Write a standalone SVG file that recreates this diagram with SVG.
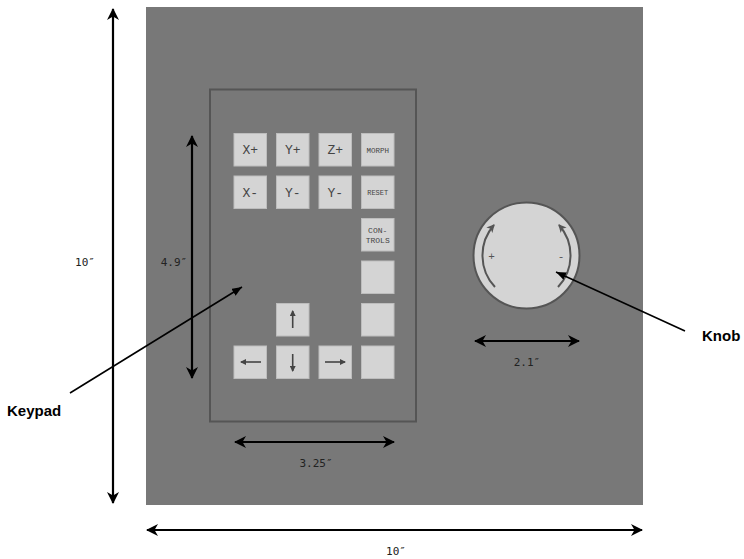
<svg xmlns="http://www.w3.org/2000/svg" width="744" height="559" viewBox="0 0 744 559">
<defs>
<style>
.key{fill:#d4d4d4;stroke:#bdbdbd;stroke-width:1}
.kt{font-family:"Liberation Mono",monospace;fill:#444;text-anchor:middle}
.ka{stroke:#444;stroke-width:1.6;fill:none}
.dim{stroke:#000;stroke-width:2.2;fill:none;marker-start:url(#dh);marker-end:url(#dh)}
.dl{font-family:"DejaVu Sans Mono","Liberation Mono",monospace;font-size:11px;fill:#222;text-anchor:middle}
.ptr{stroke:#000;stroke-width:1.6;fill:none;marker-end:url(#ph)}
.lbl{font-family:"Liberation Sans",Arial,sans-serif;font-weight:bold;font-size:15px;fill:#000}
</style>
<marker id="dh" viewBox="0 0 12 12" refX="11" refY="6" markerWidth="12" markerHeight="12" markerUnits="userSpaceOnUse" orient="auto-start-reverse"><path d="M0,0 L12,6 L0,12 L3.5,6 z" fill="#000"/></marker>
<marker id="ph" viewBox="0 0 10 8" refX="10" refY="4" markerWidth="10" markerHeight="8" markerUnits="userSpaceOnUse" orient="auto"><path d="M0,0 L10,4 L0,8 z" fill="#000"/></marker>
<marker id="kh" viewBox="0 0 6 6" refX="5" refY="3" markerWidth="6" markerHeight="6" markerUnits="userSpaceOnUse" orient="auto"><path d="M0,0 L6,3 L0,6 z" fill="#444"/></marker>
<marker id="nh" viewBox="0 0 8 8" refX="7" refY="4" markerWidth="8" markerHeight="8" markerUnits="userSpaceOnUse" orient="auto"><path d="M0,0 L8,4 L0,8 L2,4 z" fill="#555"/></marker>
</defs>
<rect width="744" height="559" fill="#fff"/>
<g id="panel"><rect x="146" y="7" width="497" height="498" fill="#787878"/></g>
<g id="keypad">
<rect x="210" y="89.5" width="206" height="332" fill="none" stroke="#555" stroke-width="2"/>
</g>
<g id="keys">
<g id="key-xp"><rect class="key" x="234" y="133.5" width="32.5" height="32.5"/><text class="kt" x="250.2" y="154" font-size="13">X+</text></g>
<g id="key-yp"><rect class="key" x="276.5" y="133.5" width="32.5" height="32.5"/><text class="kt" x="292.7" y="154" font-size="13">Y+</text></g>
<g id="key-zp"><rect class="key" x="319" y="133.5" width="32.5" height="32.5"/><text class="kt" x="335.2" y="154" font-size="13">Z+</text></g>
<g id="key-morph"><rect class="key" x="361.5" y="133.5" width="32.5" height="32.5"/><text class="kt" x="377.7" y="152.5" font-size="7.5">MORPH</text></g>
<g id="key-xm"><rect class="key" x="234" y="176" width="32.5" height="32.5"/><text class="kt" x="250.2" y="196.5" font-size="13">X-</text></g>
<g id="key-ym"><rect class="key" x="276.5" y="176" width="32.5" height="32.5"/><text class="kt" x="292.7" y="196.5" font-size="13">Y-</text></g>
<g id="key-ym2"><rect class="key" x="319" y="176" width="32.5" height="32.5"/><text class="kt" x="335.2" y="196.5" font-size="13">Y-</text></g>
<g id="key-reset"><rect class="key" x="361.5" y="176" width="32.5" height="32.5"/><text class="kt" x="377.7" y="195" font-size="7">RESET</text></g>
<g id="key-controls"><rect class="key" x="361.5" y="218.5" width="32.5" height="32.5"/><text class="kt" x="377.7" y="233" font-size="8">CON-</text><text class="kt" x="377.7" y="243" font-size="8">TROLS</text></g>
<g id="key-b1"><rect class="key" x="361.5" y="261" width="32.5" height="32.5"/></g>
<g id="key-b2"><rect class="key" x="361.5" y="303.5" width="32.5" height="32.5"/></g>
<g id="key-b3"><rect class="key" x="361.5" y="346" width="32.5" height="32.5"/></g>
<g id="key-up"><rect class="key" x="276.5" y="303.5" width="32.5" height="32.5"/><line class="ka" x1="292.7" y1="328" x2="292.7" y2="311" marker-end="url(#kh)"/></g>
<g id="key-down"><rect class="key" x="276.5" y="346" width="32.5" height="32.5"/><line class="ka" x1="292.7" y1="354" x2="292.7" y2="371" marker-end="url(#kh)"/></g>
<g id="key-left"><rect class="key" x="234" y="346" width="32.5" height="32.5"/><line class="ka" x1="261" y1="362" x2="241" y2="362" marker-end="url(#kh)"/></g>
<g id="key-right"><rect class="key" x="319" y="346" width="32.5" height="32.5"/><line class="ka" x1="325" y1="362" x2="345" y2="362" marker-end="url(#kh)"/></g>
</g>
<g id="knob">
<circle cx="526.5" cy="255.5" r="53" fill="#d4d4d4" stroke="#555" stroke-width="2"/>
<path d="M495,287 A46,46 0 0,1 494,225" fill="none" stroke="#555" stroke-width="2" marker-end="url(#nh)"/>
<path d="M558,287 A46,46 0 0,0 559,225" fill="none" stroke="#555" stroke-width="2" marker-end="url(#nh)"/>
<text x="491.5" y="260" font-family="Liberation Mono,monospace" font-size="11" fill="#555" text-anchor="middle">+</text>
<text x="561" y="260" font-family="Liberation Mono,monospace" font-size="11" fill="#555" text-anchor="middle">-</text>
</g>
<g id="connectors">
<line class="dim" x1="113" y1="9" x2="113" y2="503"/>
<line class="dim" x1="147" y1="530" x2="642" y2="530"/>
<line class="dim" x1="192" y1="136" x2="192" y2="378"/>
<line class="dim" x1="235" y1="442" x2="394" y2="442"/>
<line class="dim" x1="475" y1="341" x2="579" y2="341"/>
<line class="ptr" x1="70" y1="393" x2="242" y2="287"/>
<line class="ptr" x1="685" y1="331" x2="556" y2="272"/>
</g>
<g id="labels">
<text class="dl" x="85" y="266">10″</text>
<text class="dl" x="396" y="555">10″</text>
<text class="dl" x="174" y="266">4.9″</text>
<text class="dl" x="316" y="467">3.25″</text>
<text class="dl" x="527" y="366">2.1″</text>
<text class="lbl" x="7" y="416">Keypad</text>
<text class="lbl" x="702" y="341">Knob</text>
</g>
</svg>
